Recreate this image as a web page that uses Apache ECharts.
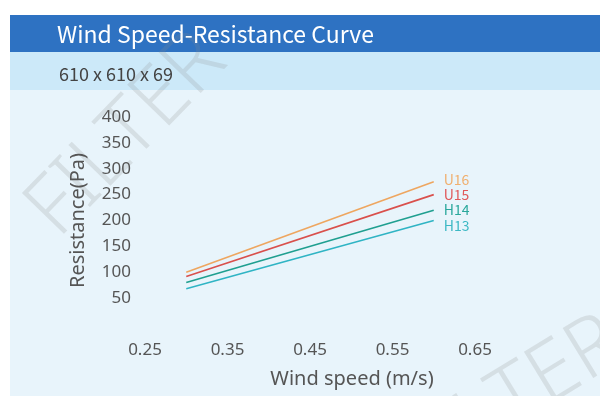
<!DOCTYPE html>
<html>
<head>
<meta charset="utf-8">
<script src="https://cdn.jsdelivr.net/npm/echarts@6/dist/echarts.min.js"></script>
<style>
  html, body { margin: 0; padding: 0; background: #fff; }
  #chart { width: 600px; height: 396px; }
</style>
</head>
<body>
<div id="chart"></div>
<script>
// wind speed (m/s) at both ends of each curve
const speeds = [0.3, 0.6];
const seriesNames = ['U16', 'U15', 'H14', 'H13'];
const u16 = [100, 275];
const u15 = [92, 250];
const h14 = [80, 220];
const h13 = [68, 200];
const yTicks = [50, 100, 150, 200, 250, 300, 350, 400];
const xTicks = [0.25, 0.35, 0.45, 0.55, 0.65];

const FONT = '"Noto Sans CJK SC", "Noto Sans", sans-serif';
const AXIS_FONT = '"Noto Sans", sans-serif';
const lineColors = ['#eea660', '#d9504c', '#1f9f90', '#2fb4c4'];
const labelColors = ['#f0b070', '#e0585a', '#2aa89c', '#3cb8c4'];

const chart = echarts.init(document.getElementById('chart'));

const values = [u16, u15, h14, h13];
const series = seriesNames.map((name, i) => ({
  name: name,
  type: 'line',
  symbol: 'none',
  silent: true,
  lineStyle: { color: lineColors[i], width: 1.6 },
  data: speeds.map((s, j) => [s, values[i][j]]),
  endLabel: {
    show: true,
    formatter: '{a}',
    color: labelColors[i],
    fontFamily: FONT,
    fontSize: 14,
    distance: 10,
    offset: i === 3 ? [0, 5] : (i === 0 ? [0, -2] : [0, 0])
  }
}));

const option = {
  backgroundColor: '#ffffff',
  animation: false,
  graphic: [
    { type: 'rect', z: -10, shape: { x: 10, y: 90, width: 590, height: 306 }, style: { fill: '#e8f4fb' } },
    { type: 'rect', z: -10, shape: { x: 10, y: 52, width: 590, height: 38 }, style: { fill: '#cce9f9' } },
    { type: 'rect', z: -10, shape: { x: 10, y: 15, width: 590, height: 37 }, style: { fill: '#2e72c2' } },
    // faint watermark
    { type: 'text', z: -5, x: 12, y: 195, rotation: 0.8,
      style: { text: 'FILTER', fill: 'rgba(140,140,140,0.2)', font: '300 82px "Noto Sans", sans-serif' } },
    { type: 'text', z: -5, x: 385, y: 430, rotation: 0.55,
      style: { text: 'FILTER', fill: 'rgba(140,140,140,0.2)', font: '300 82px "Noto Sans", sans-serif' } }
  ],
  title: [
    {
      text: 'Wind Speed-Resistance Curve',
      left: 52, top: 18,
      textStyle: { color: '#ffffff', fontFamily: FONT, fontSize: 23, fontWeight: 'normal' }
    },
    {
      text: '610 x 610 x 69',
      left: 54, top: 60,
      textStyle: { color: '#444444', fontFamily: FONT, fontSize: 18, fontWeight: 'normal' }
    }
  ],
  grid: { left: 145, right: 125, top: 117, bottom: 72 },
  xAxis: {
    type: 'value',
    min: 0.25, max: 0.65, interval: 0.1,
    name: 'Wind speed (m/s)',
    nameLocation: 'middle',
    nameGap: 45,
    nameTextStyle: { color: '#555', fontFamily: AXIS_FONT, fontSize: 20, padding: [0, 0, 0, 84] },
    axisLine: { show: false },
    axisTick: { show: false },
    splitLine: { show: false },
    axisLabel: {
      color: '#555', fontFamily: AXIS_FONT, fontSize: 17, margin: 18,
      formatter: v => xTicks.find(t => Math.abs(t - v) < 1e-6)?.toFixed(2) ?? ''
    }
  },
  yAxis: {
    type: 'value',
    min: 0, max: 400, interval: 50,
    name: 'Resistance(Pa)',
    nameLocation: 'middle',
    nameGap: 57,
    nameTextStyle: { color: '#555', fontFamily: AXIS_FONT, fontSize: 20 },
    axisLine: { show: false },
    axisTick: { show: false },
    splitLine: { show: false },
    axisLabel: {
      color: '#555', fontFamily: AXIS_FONT, fontSize: 17, margin: 14,
      formatter: v => yTicks.includes(v) ? String(v) : ''
    }
  },
  series: series
};

chart.setOption(option);
</script>
</body>
</html>
